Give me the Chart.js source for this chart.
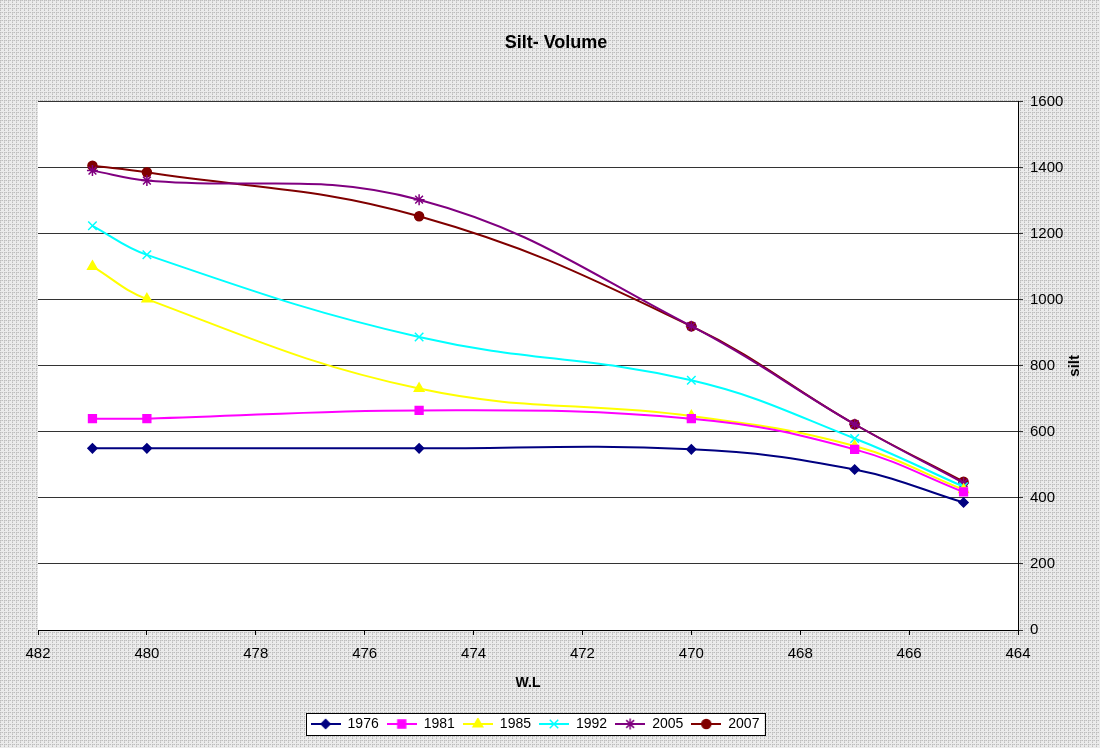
<!DOCTYPE html>
<html>
<head>
<meta charset="utf-8">
<title>Silt- Volume</title>
<script src="https://cdn.jsdelivr.net/npm/chart.js@4"></script>
<style>
  html, body { margin: 0; padding: 0; background: #fff; }
  #wrap { width: 1100px; height: 748px; }
</style>
</head>
<body>
<div id="wrap"><canvas id="siltChart" width="1100" height="748"></canvas></div>
<script>
    // water level (x) and silt volume per survey year
    var waterLevels = [481, 480, 475, 470, 467, 465];
    var years = ['1976', '1981', '1985', '1992', '2005', '2007'];
    var silt1976 = [550, 550, 550, 547, 486, 386];
    var silt1981 = [640, 640, 665, 640, 547, 418];
    var silt1985 = [1101, 1002, 731, 648, 557, 425];
    var silt1992 = [1224, 1136, 887, 756, 580, 434];
    var silt2005 = [1391, 1361, 1303, 920, 623, 445];
    var silt2007 = [1406, 1386, 1253, 920, 623, 449];
    var xTicks = [482, 480, 478, 476, 474, 472, 470, 468, 466, 464];
    var yTicks = [0, 200, 400, 600, 800, 1000, 1200, 1400, 1600];

    var seriesValues = [silt1976, silt1981, silt1985, silt1992, silt2005, silt2007];
    var colors = ['#000080', '#FF00FF', '#FFFF00', '#00FFFF', '#800080', '#800000'];
    var markers = ['rectRot', 'rect', 'triangle', 'crossRot', 'star', 'circle'];
    var markerSize = [4.5, 5.5, 5.5, 6, 5.5, 4.5];

    var FONT = 'Arial, "Liberation Sans", Helvetica, sans-serif';

    // grey dotted fill used outside the plot area
    function makePattern() {
        var c = document.createElement('canvas');
        c.width = 4; c.height = 4;
        var g = c.getContext('2d');
        g.fillStyle = '#ebebeb';
        g.fillRect(0, 0, 4, 4);
        g.fillStyle = '#bdbdbd';
        for (var i = 0; i < 4; i += 2) {
            g.fillRect(i, 0, 1, 1);
            g.fillRect(0, i, 1, 1);
        }
        g.fillStyle = '#d2d2d2';
        g.fillRect(1, 0, 1, 1);
        g.fillRect(0, 1, 1, 1);
        return c;
    }

    // small line + marker swatch for the legend
    function legendSwatch(i) {
        var c = document.createElement('canvas');
        c.width = 30; c.height = 12;
        var g = c.getContext('2d');
        g.strokeStyle = colors[i];
        g.lineWidth = 2;
        g.beginPath();
        g.moveTo(0, 6); g.lineTo(30, 6);
        g.stroke();
        g.fillStyle = colors[i];
        g.strokeStyle = colors[i];
        g.lineWidth = 1.5;
        Chart.helpers.drawPoint(g, { pointStyle: markers[i], radius: markerSize[i], rotation: 0, borderWidth: 1.5 }, 15, 6);
        return c;
    }

    var datasets = years.map(function (yr, i) {
        return {
            label: yr,
            data: waterLevels.map(function (wl, j) { return { x: wl, y: seriesValues[i][j] }; }),
            borderColor: colors[i],
            backgroundColor: colors[i],
            borderWidth: 2,
            pointStyle: markers[i],
            pointRadius: markerSize[i],
            pointBorderWidth: 1.5,
            tension: 0.4
        };
    });

    var swatches = years.map(function (yr, i) { return legendSwatch(i); });

    var frame = {
        id: 'frame',
        afterLayout: function (chart) {
            // legend and title centred on the page, not on the padded area
            chart.legend.left -= 34;
            chart.legend.right -= 34;
            chart.titleBlock.left -= 13;
            chart.titleBlock.right -= 13;
        },
        beforeDraw: function (chart) {
            var ctx = chart.ctx;
            var a = chart.chartArea;
            ctx.save();
            ctx.fillStyle = ctx.createPattern(makePattern(), 'repeat');
            ctx.fillRect(0, 0, chart.width, chart.height);
            ctx.fillStyle = '#ffffff';
            ctx.fillRect(a.left, a.top, a.right - a.left, a.bottom - a.top);
            // legend box
            var boxes = chart.legend.legendHitBoxes;
            if (boxes && boxes.length) {
                var l = boxes[0].left - 5;
                var r = boxes[boxes.length - 1].left + boxes[boxes.length - 1].width + 5;
                var t = boxes[0].top - 4;
                var h = boxes[0].height + 8;
                ctx.fillStyle = '#ffffff';
                ctx.fillRect(l, t, r - l, h);
                ctx.strokeStyle = '#000000';
                ctx.lineWidth = 1;
                ctx.strokeRect(Math.round(l) + 0.5, Math.round(t) + 0.5, Math.round(r - l), Math.round(h));
            }
            ctx.restore();
        },
        afterDraw: function (chart) {
            // rotated y title on the right side
            var ctx = chart.ctx;
            ctx.save();
            ctx.translate(1075, (chart.chartArea.top + chart.chartArea.bottom) / 2);
            ctx.rotate(-Math.PI / 2);
            ctx.font = 'bold 15px ' + FONT;
            ctx.fillStyle = '#000';
            ctx.textAlign = 'center';
            ctx.textBaseline = 'middle';
            ctx.fillText('silt', 0, 0);
            ctx.restore();
        }
    };

    var ctx = document.getElementById('siltChart').getContext('2d');
    var siltChart = new Chart(ctx, {
        type: 'line',
        data: { datasets: datasets },
        plugins: [frame],
        options: {
            responsive: false,
            animation: false,
            layout: { padding: { left: 38, right: 0, top: 0, bottom: 7 } },
            plugins: {
                title: {
                    display: true,
                    text: 'Silt- Volume',
                    color: '#000',
                    font: { family: FONT, size: 18, weight: 'bold' },
                    padding: { top: 32, bottom: 48 }
                },
                legend: {
                    position: 'bottom',
                    labels: {
                        usePointStyle: true,
                        pointStyleWidth: 30,
                        boxHeight: 12,
                        padding: 8,
                        color: '#000',
                        font: { family: FONT, size: 14 },
                        generateLabels: function (chart) {
                            return years.map(function (yr, i) {
                                return {
                                    text: yr,
                                    pointStyle: swatches[i],
                                    fillStyle: colors[i],
                                    strokeStyle: colors[i],
                                    lineWidth: 0,
                                    datasetIndex: i,
                                    hidden: false
                                };
                            });
                        }
                    }
                },
                tooltip: { enabled: false }
            },
            scales: {
                x: {
                    type: 'linear',
                    reverse: true,
                    min: 464,
                    max: 482,
                    afterBuildTicks: function (scale) {
                        scale.ticks = xTicks.map(function (v) { return { value: v }; });
                    },
                    grid: { drawOnChartArea: false, drawTicks: true, tickLength: 5, color: '#000' },
                    border: { display: true, color: '#000', width: 1 },
                    ticks: { color: '#000', font: { family: FONT, size: 15 }, padding: 10, maxRotation: 0 },
                    title: {
                        display: true,
                        text: 'W.L',
                        color: '#000',
                        font: { family: FONT, size: 14, weight: 'bold' },
                        padding: { top: 0, bottom: 17 }
                    },
                    afterFit: function (scale) { scale.height = 79; }
                },
                y: {
                    position: 'right',
                    min: 0,
                    max: 1600,
                    afterBuildTicks: function (scale) {
                        scale.ticks = yTicks.map(function (v) { return { value: v }; });
                    },
                    grid: { color: '#333', lineWidth: 1, drawTicks: true, tickLength: 5 },
                    border: { display: true, color: '#000', width: 1 },
                    ticks: {
                        color: '#000',
                        font: { family: FONT, size: 15 },
                        padding: 7,
                        callback: function (v) { return String(v); }
                    },
                    afterFit: function (scale) { scale.width = 82; }
                }
            }
        }
    });
</script>
</body>
</html>
